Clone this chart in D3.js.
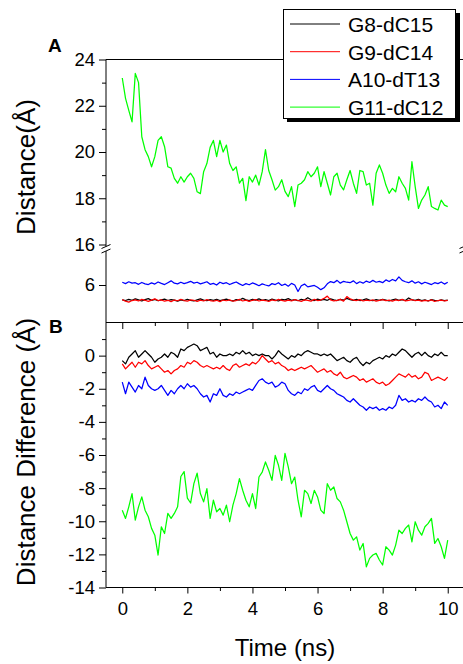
<!DOCTYPE html>
<html>
<head>
<meta charset="utf-8">
<script src="https://cdn.jsdelivr.net/npm/d3@7"></script>
<style>
  body { margin: 0; background: #fff; }
  svg { display: block; font-family: "Liberation Sans", Arial, sans-serif; }
</style>
</head>
<body>
<div id="chart"></div>
<script>
// time grid: one sample every 0.1 ns
const times = d3.range(0, 101).map(i => i / 10);

const series_names = ["G8-dC15", "G9-dC14", "A10-dT13", "G11-dC12"];
const series_colors = ["#000000", "#ff0000", "#0000ff", "#00ff00"];

// panel A, distances (A)
const a_g8_dc15 = [
  5.36, 5.33, 5.38, 5.34, 5.40, 5.36, 5.31, 5.37, 5.41, 5.34,
  5.38, 5.32, 5.36, 5.39, 5.33, 5.37, 5.35, 5.30, 5.36, 5.33,
  5.38, 5.34, 5.31, 5.36, 5.40, 5.35, 5.32, 5.37, 5.34, 5.38,
  5.33, 5.36, 5.39, 5.34, 5.31, 5.37, 5.35, 5.42, 5.36, 5.33,
  5.38, 5.35, 5.40, 5.34, 5.37, 5.33, 5.39, 5.35, 5.31, 5.38,
  5.36, 5.41, 5.34, 5.37, 5.32, 5.38, 5.35, 5.45, 5.36, 5.33,
  5.39, 5.35, 5.38, 5.34, 5.40, 5.36, 5.33, 5.38, 5.35, 5.42,
  5.37, 5.34, 5.38, 5.33, 5.36, 5.40, 5.35, 5.32, 5.37, 5.34,
  5.38, 5.35, 5.31, 5.36, 5.39, 5.34, 5.37, 5.33, 5.44, 5.36,
  5.34, 5.38, 5.33, 5.36, 5.31, 5.37, 5.34, 5.32, 5.36, 5.33, 5.35
];
const a_g9_dc14 = [
  5.37, 5.30, 5.26, 5.33, 5.36, 5.31, 5.38, 5.34, 5.29, 5.35,
  5.40, 5.33, 5.36, 5.30, 5.34, 5.28, 5.35, 5.32, 5.38, 5.33,
  5.30, 5.36, 5.34, 5.29, 5.35, 5.31, 5.37, 5.33, 5.30, 5.34,
  5.28, 5.35, 5.32, 5.36, 5.30, 5.33, 5.38, 5.31, 5.35, 5.29,
  5.34, 5.37, 5.31, 5.35, 5.33, 5.29, 5.36, 5.32, 5.38, 5.34,
  5.30, 5.35, 5.31, 5.37, 5.33, 5.29, 5.36, 5.34, 5.30, 5.38,
  5.33, 5.35, 5.42, 5.52, 5.36, 5.31, 5.34, 5.38, 5.30, 5.50,
  5.40, 5.35, 5.33, 5.37, 5.31, 5.35, 5.32, 5.36, 5.30, 5.34,
  5.37, 5.32, 5.35, 5.30, 5.36, 5.33, 5.38, 5.31, 5.34, 5.37,
  5.32, 5.35, 5.30, 5.34, 5.31, 5.36, 5.29, 5.33, 5.35, 5.31, 5.34
];
const a_a10_dt13 = [
  6.12, 6.06, 6.14, 6.08, 6.10, 6.03, 6.11, 6.05, 6.02, 6.09,
  6.04, 6.13, 6.07, 6.02, 6.10, 6.18, 6.08, 6.05, 6.12, 6.06,
  6.10, 6.16, 6.08, 6.12, 6.05, 6.09, 6.14, 6.03, 6.07, 6.00,
  6.12, 6.06, 6.10, 6.02, 6.08, 6.13, 6.05, 5.98, 6.06, 6.01,
  6.09, 6.04, 5.97, 6.05, 6.00, 5.96, 6.06, 6.02, 6.10, 5.98,
  6.04, 5.95, 6.07, 6.00, 5.72, 5.97, 6.04, 5.92, 5.95, 5.98,
  5.90, 5.80, 5.88, 6.05, 6.15, 6.10, 6.20, 6.08, 6.16, 6.12,
  6.10, 6.18, 6.06, 6.14, 6.08, 6.17, 6.11, 6.20, 6.12, 6.16,
  6.10, 6.22, 6.15, 6.24, 6.18, 6.35, 6.20, 6.14, 6.10, 6.18,
  6.08, 6.14, 6.05, 6.12, 6.07, 6.02, 6.10, 6.06, 6.13, 6.04, 6.12
];
const a_g11_dc12 = [
  23.2, 22.32, 21.8, 21.3, 23.4, 23.0, 20.66, 20.1, 19.8, 19.36,
  19.8, 20.5, 20.66, 20.23, 19.36, 19.3, 18.86, 18.65, 18.93, 18.7,
  18.93, 19.08, 18.86, 18.28, 18.2, 19.15, 19.5, 20.2, 20.5, 19.8,
  20.5, 20.0, 20.3, 19.5, 19.2, 19.36, 18.65, 18.86, 17.9, 18.93,
  18.7, 19.0, 18.57, 19.15, 20.1, 19.2, 18.8, 18.35, 18.5, 18.8,
  18.3, 18.07, 18.5, 17.64, 18.57, 18.65, 18.8, 19.15, 18.93, 19.08,
  19.36, 18.5, 19.15, 18.65, 18.14, 18.93, 19.08, 18.57, 18.36, 18.8,
  19.2, 18.65, 18.21, 19.2, 19.15, 18.57, 18.65, 17.7, 19.08, 19.44,
  19.08, 18.57, 18.21, 18.43, 18.28, 18.93, 18.65, 18.43, 17.92, 19.58,
  18.5, 17.56, 17.92, 18.14, 18.5, 17.64, 17.56, 17.49, 17.92, 17.7, 17.64
];

// panel B, distance differences (A)
const b_g8_dc15 = [
  -0.3, -0.5, -0.1, 0.1, 0.3, -0.1, 0.1, 0.3, 0.1, -0.1,
  -0.4, -0.2, -0.1, 0.1, -0.1, 0.2, 0.1, -0.1, 0.4, 0.3,
  0.5, 0.6, 0.7, 0.6, 0.3, 0.4, 0.5, 0.1, 0.2, -0.1,
  0.1, 0.0, 0.0, 0.1, 0.0, 0.2, 0.1, 0.3, 0.1, 0.2,
  0.0, 0.1, 0.0, 0.1, 0.0, 0.0, -0.2, 0.0, 0.3, 0.1,
  -0.05, -0.2, 0.0, -0.1, 0.1, 0.0, 0.2, 0.3, 0.2, 0.1,
  0.1, 0.0, 0.1, 0.0, 0.1, -0.1, -0.3, -0.2, -0.1, -0.3,
  -0.4, -0.2, -0.1, -0.4, -0.6, -0.4, -0.5, -0.3, -0.2, -0.1,
  -0.2, 0.0, -0.1, 0.1, 0.0, 0.2, 0.4, 0.3, 0.1, -0.1,
  0.1, 0.2, 0.0, 0.2, 0.0, -0.1, 0.1, 0.0, 0.2, 0.0, 0.0
];
const b_g9_dc14 = [
  -0.5, -0.8, -0.6, -0.4, -0.7, -0.4, -0.5, -0.3, -0.6, -0.8,
  -0.7, -0.6, -0.8, -1.0, -0.9, -1.1, -0.9, -0.8, -0.6, -0.7,
  -0.4, -0.5, -0.3, -0.4, -0.6, -0.7, -0.6, -0.7, -0.8, -0.7,
  -0.8, -0.6, -0.8, -0.9, -0.6, -0.5, -0.7, -0.6, -0.5, -0.6,
  -0.4, -0.5, -0.3, 0.0, -0.2, -0.4, -0.3, -0.5, -0.4, -0.6,
  -0.7, -0.9, -0.8, -0.9, -0.8, -0.7, -0.8, -0.7, -0.6, -0.8,
  -1.0, -0.9, -0.8, -1.0, -0.9, -1.1, -1.2, -1.0, -1.3, -1.4,
  -1.3, -1.2, -1.3, -1.5, -1.4, -1.6, -1.5, -1.4, -1.6, -1.7,
  -1.6, -1.8, -1.7, -1.5, -1.3, -1.1, -1.2, -1.3, -1.1, -1.3,
  -1.2, -1.4, -1.3, -1.0, -1.1, -1.5, -1.4, -1.3, -1.4, -1.5, -1.3
];
const b_a10_dt13 = [
  -1.6, -2.3, -1.6, -1.9, -2.2, -1.8, -2.0, -1.3, -1.8, -2.0,
  -2.1, -2.0, -1.8, -2.1, -2.4, -2.1, -2.3, -2.0, -1.8, -2.0,
  -1.7, -1.9, -1.8, -2.0, -2.3, -2.5, -2.4, -2.8, -2.3, -2.4,
  -2.0, -2.4, -2.5, -2.3, -2.4, -2.2, -2.3, -2.2, -2.1, -2.0,
  -2.1, -1.8, -1.5, -1.4, -1.6, -1.7, -1.6, -1.9, -1.8, -1.6,
  -1.7, -2.1, -2.3, -2.4, -2.2, -2.3, -2.0, -2.1, -1.9, -1.8,
  -2.1, -2.2, -2.0, -1.8, -2.0, -2.1, -2.3, -2.4, -2.5, -2.7,
  -2.8, -2.6, -2.8, -3.0, -3.1, -3.3, -3.1, -3.2, -3.1, -3.3,
  -3.2, -3.3, -3.1, -3.2, -3.0, -2.4, -2.7, -2.6, -2.8, -2.7,
  -2.8, -2.6, -2.7, -2.5, -2.7, -2.8, -3.1, -3.0, -3.2, -2.8, -3.0
];
const b_g11_dc12 = [
  -9.33, -9.83, -9.13, -8.33, -9.93, -9.13, -8.53, -9.33, -9.73, -10.43,
  -10.84, -12.04, -10.34, -10.74, -9.53, -9.83, -9.53, -9.13, -7.3, -7.0,
  -8.6, -8.9, -7.73, -7.1, -8.33, -8.83, -8.03, -9.83, -8.73, -9.43,
  -9.23, -9.63, -9.03, -10.03, -9.03, -8.33, -7.43, -8.13, -8.73, -9.13,
  -8.33, -9.23, -7.33, -7.03, -6.42, -6.92, -7.53, -6.02, -6.62, -7.53,
  -5.9, -6.72, -7.73, -7.33, -8.73, -9.73, -8.13, -8.33, -8.93, -8.13,
  -8.53, -9.33, -9.53, -7.73, -8.13, -7.93, -8.63, -8.83, -9.33, -10.03,
  -10.74, -11.14, -10.94, -11.74, -11.34, -12.75, -12.24, -12.04, -11.94, -12.34,
  -12.64, -11.54, -11.74, -12.04, -11.44, -10.54, -10.74, -10.43, -10.23, -11.24,
  -10.03, -10.54, -10.84, -10.33, -10.13, -9.83, -11.34, -11.04, -11.54, -12.24, -11.14
];

// tick values
const x_ticks = [0, 2, 4, 6, 8, 10];
const x_minor_ticks = [1, 3, 5, 7, 9];
const a_upper_ticks = [16, 18, 20, 22, 24];
const a_upper_minor = [17, 19, 21, 23];
const a_lower_ticks = [6];
const b_ticks = [-14, -12, -10, -8, -6, -4, -2, 0];
const b_minor_ticks = [-13, -11, -9, -7, -5, -3, -1, 1];

function toPoints(values) {
  return values.map((v, i) => ({ t: times[i], v: v }));
}

function draw_chart(dom_id) {
  const width = 463;
  const height = 664;

  const svg = d3.select(dom_id)
    .append("svg")
    .attr("width", width)
    .attr("height", height);

  // frame geometry
  const left = 106;
  const right = 464;
  const top_a = 59.5;
  const mid = 322.5;
  const bottom_b = 587.5;

  const x = d3.scaleLinear().domain([-0.5, 10.5]).range([left, right]);
  const ya_upper = d3.scaleLinear().domain([16, 24]).range([244.5, top_a]);
  const ya_lower = d3.scaleLinear().domain([4.38, 7.34]).range([mid, 254]);
  const yb = d3.scaleLinear().domain([-14, 2]).range([bottom_b, mid]);

  // clip regions for each segment
  const defs = svg.append("defs");
  defs.append("clipPath").attr("id", "clip-a-up")
    .append("rect").attr("x", left).attr("y", top_a).attr("width", right - left).attr("height", 247 - top_a);
  defs.append("clipPath").attr("id", "clip-a-low")
    .append("rect").attr("x", left).attr("y", 252).attr("width", right - left).attr("height", mid - 252);
  defs.append("clipPath").attr("id", "clip-b")
    .append("rect").attr("x", left).attr("y", mid).attr("width", right - left).attr("height", bottom_b - mid);

  function drawSeries(values, yscale, color, clip) {
    const line = d3.line()
      .x(d => x(d.t))
      .y(d => yscale(d.v));
    svg.append("path")
      .datum(toPoints(values))
      .attr("clip-path", "url(#" + clip + ")")
      .attr("fill", "none")
      .attr("stroke", color)
      .attr("stroke-width", 1.25)
      .attr("stroke-linejoin", "round")
      .attr("d", line);
  }

  // panel A lines
  drawSeries(a_g8_dc15, ya_lower, series_colors[0], "clip-a-low");
  drawSeries(a_g9_dc14, ya_lower, series_colors[1], "clip-a-low");
  drawSeries(a_a10_dt13, ya_lower, series_colors[2], "clip-a-low");
  drawSeries(a_g11_dc12, ya_upper, series_colors[3], "clip-a-up");

  // panel B lines
  drawSeries(b_g8_dc15, yb, series_colors[0], "clip-b");
  drawSeries(b_g9_dc14, yb, series_colors[1], "clip-b");
  drawSeries(b_a10_dt13, yb, series_colors[2], "clip-b");
  drawSeries(b_g11_dc12, yb, series_colors[3], "clip-b");

  const noDomain = g => g.select(".domain").remove();
  const tickStyle = g => {
    g.selectAll("line").attr("stroke", "#000").attr("stroke-width", 1);
    g.selectAll("text").attr("font-size", 18.5).attr("fill", "#000")
      .attr("font-family", "'Liberation Sans', Arial, sans-serif");
  };

  // left axes (major + minor)
  function leftAxis(scale, majors, minors) {
    svg.append("g")
      .attr("transform", "translate(" + left + ",0)")
      .call(d3.axisLeft(scale).tickValues(majors).tickSize(7).tickPadding(4)
        .tickFormat(d => String(d)))
      .call(noDomain).call(tickStyle);
    if (minors.length) {
      svg.append("g")
        .attr("transform", "translate(" + left + ",0)")
        .call(d3.axisLeft(scale).tickValues(minors).tickSize(4).tickFormat(""))
        .call(noDomain).call(tickStyle);
    }
  }
  leftAxis(ya_upper, a_upper_ticks, a_upper_minor);
  leftAxis(ya_lower, a_lower_ticks, []);
  leftAxis(yb, b_ticks, b_minor_ticks);

  // bottom x axis
  svg.append("g")
    .attr("transform", "translate(0," + bottom_b + ")")
    .call(d3.axisBottom(x).tickValues(x_ticks).tickSize(6).tickPadding(8))
    .call(noDomain).call(tickStyle);
  svg.append("g")
    .attr("transform", "translate(0," + bottom_b + ")")
    .call(d3.axisBottom(x).tickValues(x_minor_ticks).tickSize(3.5).tickFormat(""))
    .call(noDomain).call(tickStyle);

  // ticks on the shared line between A and B, pointing into B
  svg.append("g")
    .attr("transform", "translate(0," + mid + ")")
    .call(d3.axisBottom(x).tickValues(x_ticks).tickSize(6.5).tickFormat(""))
    .call(noDomain).call(tickStyle);
  svg.append("g")
    .attr("transform", "translate(0," + mid + ")")
    .call(d3.axisBottom(x).tickValues(x_minor_ticks).tickSize(3.5).tickFormat(""))
    .call(noDomain).call(tickStyle);

  // frame lines
  const frame = svg.append("g").attr("stroke", "#000").attr("stroke-width", 1).attr("fill", "none");
  frame.append("line").attr("x1", left).attr("x2", right).attr("y1", top_a).attr("y2", top_a);
  frame.append("line").attr("x1", left).attr("x2", right).attr("y1", mid).attr("y2", mid);
  frame.append("line").attr("x1", left).attr("x2", right).attr("y1", bottom_b).attr("y2", bottom_b);
  [left, right].forEach(xx => {
    frame.append("line").attr("x1", xx).attr("x2", xx).attr("y1", top_a).attr("y2", 246.5);
    frame.append("line").attr("x1", xx).attr("x2", xx).attr("y1", 251).attr("y2", bottom_b);
    // axis break marks
    frame.append("line").attr("x1", xx - 4.5).attr("y1", 248.5).attr("x2", xx + 4.5).attr("y2", 244.5);
    frame.append("line").attr("x1", xx - 4.5).attr("y1", 253).attr("x2", xx + 4.5).attr("y2", 249);
  });

  // panel letters
  svg.append("text").attr("x", 48).attr("y", 52)
    .attr("font-size", 19).attr("font-weight", "bold").text("A");
  svg.append("text").attr("x", 49).attr("y", 333)
    .attr("font-size", 19).attr("font-weight", "bold").text("B");

  // axis titles
  svg.append("text")
    .attr("transform", "translate(35,167) rotate(-90)")
    .attr("text-anchor", "middle")
    .attr("font-size", 26)
    .text("Distance(Å)");
  svg.append("text")
    .attr("transform", "translate(35,452) rotate(-90)")
    .attr("text-anchor", "middle")
    .attr("font-size", 26)
    .text("Distance Difference (Å)");
  svg.append("text")
    .attr("x", 285).attr("y", 656)
    .attr("text-anchor", "middle")
    .attr("font-size", 24)
    .text("Time (ns)");

  // legend with drop shadow
  const lg = svg.append("g");
  lg.append("rect").attr("x", 287).attr("y", 13).attr("width", 173).attr("height", 109).attr("fill", "#000");
  lg.append("rect").attr("x", 283.5).attr("y", 9.5).attr("width", 172).attr("height", 109)
    .attr("fill", "#fff").attr("stroke", "#000").attr("stroke-width", 1);
  const item = lg.selectAll("g.item")
    .data(series_names)
    .enter()
    .append("g")
    .attr("class", "item")
    .attr("transform", (d, i) => "translate(0," + (24 + i * 27.7) + ")");
  item.append("line")
    .attr("x1", 290).attr("x2", 340)
    .attr("stroke", (d, i) => series_colors[i])
    .attr("stroke-width", 1);
  item.append("text")
    .attr("x", 348).attr("y", 0.5)
    .attr("dominant-baseline", "central")
    .attr("font-size", 21)
    .text(d => d);
}

draw_chart("#chart");
</script>
</body>
</html>
